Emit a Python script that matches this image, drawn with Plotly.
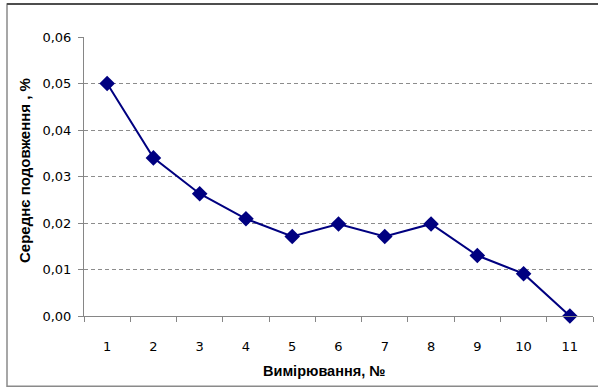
import plotly.graph_objects as go

# Measurement numbers and mean elongation values (%)
measurements = ["1", "2", "3", "4", "5", "6", "7", "8", "9", "10", "11"]
mean_elongation = [0.050, 0.034, 0.0263, 0.0209, 0.0171, 0.0198, 0.0171, 0.0198, 0.0130, 0.0091, 0.0]
y_ticks = [0.00, 0.01, 0.02, 0.03, 0.04, 0.05, 0.06]

W, H = 598, 388
L, R, T, B = 84, 5, 36.5, 71.5
pw, ph = W - L - R, H - T - B


def px(x):
    return (x - L) / pw


def py(y):
    return (H - B - y) / ph


fig = go.Figure()
fig.add_trace(go.Scatter(
    x=measurements,
    y=mean_elongation,
    mode="lines+markers",
    line=dict(color="#000080", width=2),
    marker=dict(symbol="diamond", size=12, color="#000080"),
    cliponaxis=False,
    showlegend=False,
))

fig.update_layout(
    width=W,
    height=H,
    margin=dict(l=L, r=R, t=T, b=B),
    paper_bgcolor="white",
    plot_bgcolor="white",
    separators=", ",
    font=dict(family="DejaVu Sans", size=13, color="#000000"),
    xaxis=dict(
        type="category",
        range=[-0.5, len(measurements) - 0.5],
        tickson="boundaries",
        ticks="outside",
        ticklen=5,
        tickcolor="#868686",
        showline=True,
        linecolor="#868686",
        linewidth=1,
        showgrid=False,
        tickfont=dict(size=13),
        ticklabelstandoff=18,
    ),
    yaxis=dict(
        range=[0, 0.06],
        tickvals=y_ticks,
        tickformat=".2f",
        ticks="outside",
        ticklen=5,
        tickcolor="#868686",
        showline=True,
        linecolor="#868686",
        linewidth=1,
        showgrid=True,
        gridcolor="#8c8c8c",
        gridwidth=1,
        griddash="4px,3px",
        zeroline=False,
        tickfont=dict(size=13),
        ticklabelstandoff=4,
    ),
    annotations=[
        dict(
            text="<b>Середнє подовження , %</b>",
            xref="paper", yref="paper",
            x=px(24), y=py(171),
            xanchor="center", yanchor="middle",
            textangle=-90,
            showarrow=False,
            font=dict(family="Liberation Sans", size=15, color="#000000"),
        ),
        dict(
            text="<b>Вимірювання, №</b>",
            xref="paper", yref="paper",
            x=px(324), y=py(372),
            xanchor="center", yanchor="middle",
            showarrow=False,
            font=dict(family="Liberation Sans", size=14.5, color="#000000"),
        ),
    ],
    shapes=[
        # chart frame
        dict(type="rect", xref="paper", yref="paper",
             x0=px(7), x1=px(610), y0=py(387), y1=py(3.5),
             line=dict(color="#8a8a8a", width=1.5), layer="below"),
        dict(type="line", xref="paper", yref="paper",
             x0=px(7), x1=px(610), y0=py(3.5), y1=py(3.5),
             line=dict(color="#4d4d4d", width=2)),
    ],
)

fig.write_html("out.html")
